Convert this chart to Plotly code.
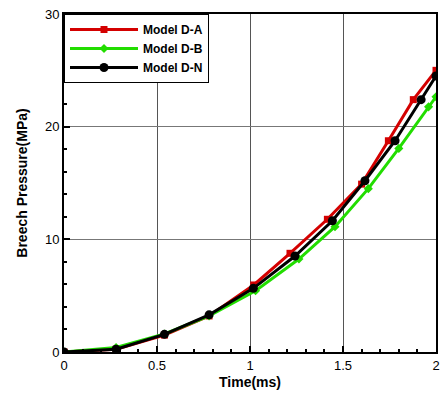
import plotly.graph_objects as go

# Data
t_a = [0.0, 0.28, 0.54, 0.78, 1.02, 1.215, 1.416, 1.60, 1.744, 1.878, 2.0]
p_a = [0.0, 0.25, 1.5, 3.2, 5.95, 8.76, 11.78, 14.9, 18.75, 22.4, 25.0]

t_b = [0.0, 0.28, 0.54, 0.78, 1.03, 1.263, 1.457, 1.636, 1.80, 1.96, 2.0]
p_b = [0.0, 0.4, 1.6, 3.2, 5.44, 8.25, 11.12, 14.5, 18.07, 21.76, 22.65]

t_n = [0.0, 0.28, 0.54, 0.78, 1.018, 1.242, 1.443, 1.618, 1.78, 1.92, 2.0]
p_n = [0.0, 0.24, 1.57, 3.3, 5.65, 8.52, 11.65, 15.2, 18.75, 22.4, 24.5]

x_ticks = [0, 0.5, 1, 1.5, 2]
x_tick_labels = ["0", "0.5", "1", "1.5", "2"]
y_ticks = [0, 10, 20, 30]
y_tick_labels = ["0", "10", "20", "30"]

fig = go.Figure()
fig.add_trace(go.Scatter(x=t_a, y=p_a, name="Model D-A", mode="lines+markers",
                         line=dict(color="#d40000", width=3),
                         marker=dict(symbol="square", size=7, color="#d40000")))
fig.add_trace(go.Scatter(x=t_b, y=p_b, name="Model D-B", mode="lines+markers",
                         line=dict(color="#22dd00", width=3),
                         marker=dict(symbol="diamond", size=7, color="#22dd00")))
fig.add_trace(go.Scatter(x=t_n, y=p_n, name="Model D-N", mode="lines+markers",
                         line=dict(color="black", width=3),
                         marker=dict(symbol="circle", size=9, color="black")))

fig.update_layout(
    width=441, height=394,
    margin=dict(l=64, r=5, t=14, b=42, autoexpand=False),
    paper_bgcolor="white", plot_bgcolor="white",
    font=dict(family="Liberation Sans, Arial, sans-serif", size=13, color="black"),
    legend=dict(x=0, y=1, xanchor="left", yanchor="top",
                bordercolor="black", borderwidth=1, bgcolor="white",
                font=dict(size=12, family="Liberation Sans, Arial", weight="bold"),
                itemwidth=68, tracegroupgap=0),
    showlegend=True,
)
fig.update_xaxes(
    range=[0, 2], tickvals=x_ticks, ticktext=x_tick_labels,
    showgrid=True, gridcolor="#555555", gridwidth=1,
    showline=True, linecolor="black", linewidth=2, mirror=True,
    ticks="inside", ticklen=6, tickcolor="black", tickwidth=2,
    minor=dict(ticks="inside", dtick=0.1, ticklen=3, tickcolor="black", showgrid=False),
    zeroline=False,
    title=dict(text="<b>Time(ms)</b>", font=dict(size=14), standoff=6),
    tickfont=dict(size=13),
    ticklabeloverflow="allow",
    automargin=False,
)
fig.update_yaxes(
    range=[0, 30], tickvals=y_ticks, ticktext=y_tick_labels,
    showgrid=True, gridcolor="#777777", gridwidth=1,
    showline=True, linecolor="black", linewidth=2, mirror=True,
    ticks="inside", ticklen=6, tickcolor="black", tickwidth=2,
    minor=dict(ticks="inside", dtick=2, ticklen=3, tickcolor="black", showgrid=False),
    zeroline=False,
    title=dict(text="<b>Breech Pressure(MPa)</b>", font=dict(size=14), standoff=14),
    tickfont=dict(size=13),
    ticklabeloverflow="allow",
    automargin=False,
)

fig.write_html(
    "out.html",
    config={"displayModeBar": False},
    post_script="document.body.style.margin='0';document.body.style.overflow='hidden';",
)
